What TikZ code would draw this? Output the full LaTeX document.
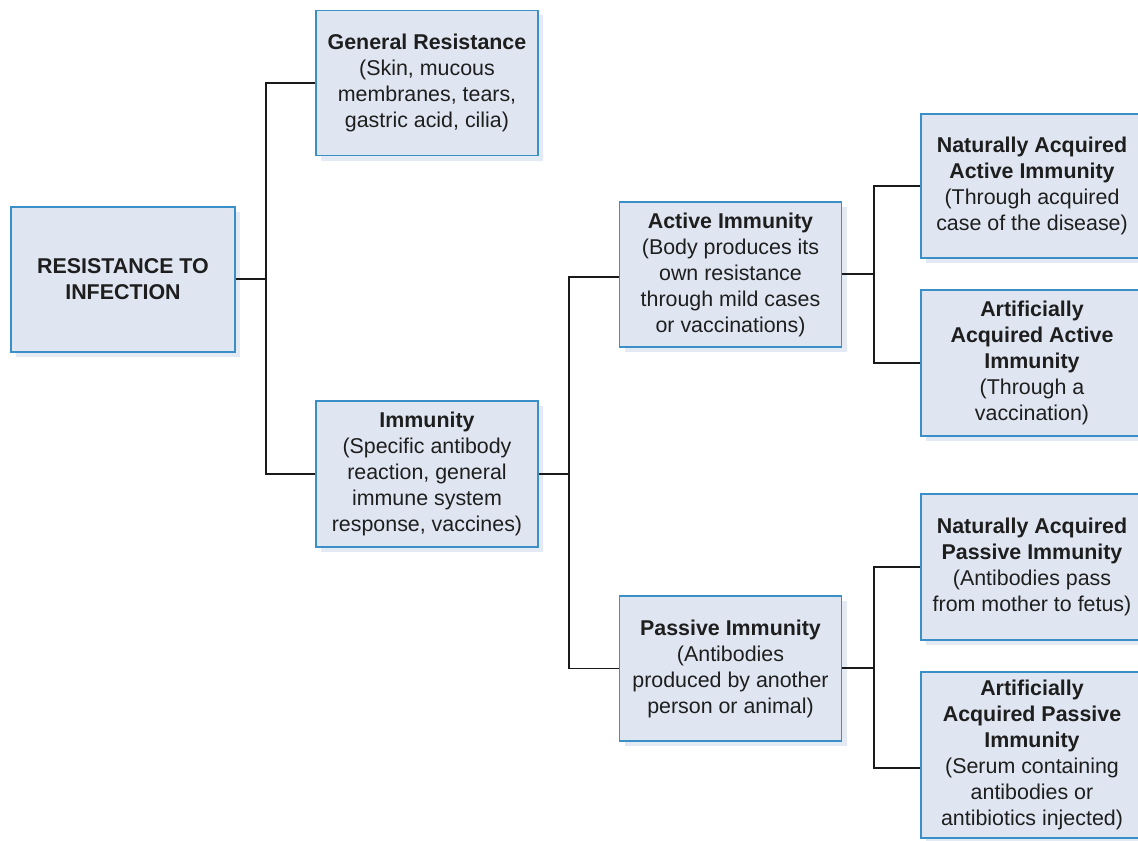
\documentclass[tikz,border=0pt]{standalone}
\usepackage{fontspec}
\setmainfont{Liberation Sans}
\usetikzlibrary{shadows}
\definecolor{boxfill}{HTML}{DFE6F1}
\definecolor{boxline}{HTML}{3A8FC6}
\definecolor{shadowc}{HTML}{E4EAF3}
\definecolor{txt}{HTML}{1E1E1E}
\definecolor{wire}{HTML}{1A1A1A}
\tikzset{
  x=0.5pt, y=-0.5pt,
  box/.style={draw=boxline, line width=0.8pt, fill=boxfill, text=txt,
    minimum width=111pt, minimum height=72.5pt, align=center, inner sep=0pt,
    font=\fontsize{10.7}{13}\selectfont,
    drop shadow={shadow xshift=2.5pt, shadow yshift=-2.5pt, fill=shadowc, opacity=1}},
  wire/.style={draw=wire, line width=0.8pt}
}
\begin{document}
\begin{tikzpicture}
\useasboundingbox (0,0) rectangle (1138,840);
\clip (0,0) rectangle (1138,840);
\fill[white] (0,0) rectangle (1138,840);

\node[box, minimum width=112pt] (root) at (123,279.5) {\bfseries RESISTANCE TO\\\bfseries INFECTION};
\node[box] (gen) at (427,83) {\bfseries General Resistance\\(Skin, mucous\\membranes, tears,\\gastric acid, cilia)};
\node[box, minimum height=73pt] (imm) at (427,474) {\bfseries Immunity\\(Specific antibody\\reaction, general\\immune system\\response, vaccines)};
\node[box] (act) at (730.5,274.5) {\bfseries Active Immunity\\(Body produces its\\own resistance\\through mild cases\\or vaccinations)};
\node[box] (pas) at (730.5,668.5) {\bfseries Passive Immunity\\(Antibodies\\produced by another\\person or animal)};
\node[box, minimum height=72pt] (naa) at (1032,186) {\bfseries Naturally Acquired\\\bfseries Active Immunity\\(Through acquired\\case of the disease)};
\node[box, minimum height=73pt] (aaa) at (1032,363) {\bfseries Artificially\\\bfseries Acquired Active\\\bfseries Immunity\\(Through a\\vaccination)};
\node[box, minimum height=73pt] (nap) at (1032,567) {\bfseries Naturally Acquired\\\bfseries Passive Immunity\\(Antibodies pass\\from mother to fetus)};
\node[box, minimum height=83pt] (aap) at (1032,755) {\bfseries Artificially\\\bfseries Acquired Passive\\\bfseries Immunity\\(Serum containing\\antibodies or\\antibiotics injected)};

% connectors
\coordinate (j1) at (266,279);
\coordinate (j2) at (569,474);
\coordinate (j3) at (874,274);
\coordinate (j4) at (874,668);

\draw[wire] (root.east |- j1) -- (j1);
\draw[wire] (gen.west) -- (j1 |- gen.west) -- (j1 |- imm.west) -- (imm.west);

\draw[wire] (imm.east) -- (j2);
\draw[wire] (act.west |- 0,277) -- (j2 |- 0,277) -- (j2 |- pas.west) -- (pas.west);

\draw[wire] (act.east |- j3) -- (j3);
\draw[wire] (naa.west) -- (j3 |- naa.west) -- (j3 |- aaa.west) -- (aaa.west);

\draw[wire] (pas.east |- j4) -- (j4);
\draw[wire] (nap.west) -- (j4 |- nap.west) -- (j4 |- 0,768) -- (aap.west |- 0,768);
\end{tikzpicture}
\end{document}
